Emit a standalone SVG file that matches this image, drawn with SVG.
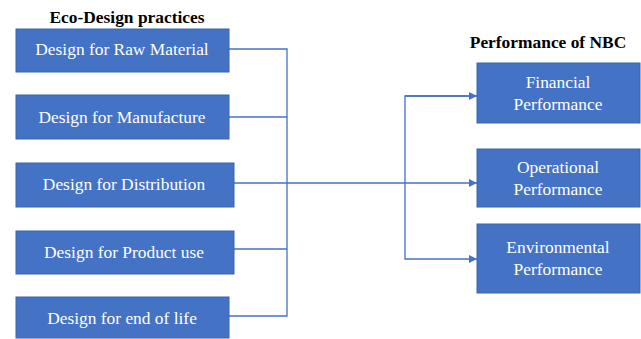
<svg xmlns="http://www.w3.org/2000/svg" width="641" height="339" viewBox="0 0 641 339">
<style>
.box{fill:#4472C4;stroke:#3A64AE;stroke-width:1}
.t{font-family:'Liberation Serif','Times New Roman','DejaVu Serif',serif;font-size:17.4px;fill:#ffffff;text-anchor:middle}
.h{font-family:'Liberation Serif','Times New Roman','DejaVu Serif',serif;font-size:17.4px;font-weight:bold;fill:#000000;text-anchor:middle}
.c{fill:none;stroke:#4472C4;stroke-width:1.3}
</style>
<defs>
<marker id="arr" viewBox="0 0 10 10" refX="10" refY="5" markerWidth="8" markerHeight="8" markerUnits="userSpaceOnUse" orient="auto">
<path d="M0,0 L10,5 L0,10 z" fill="#4472C4"/>
</marker>
</defs>
<rect width="641" height="339" fill="#ffffff"/>
<text class="h" x="127" y="23">Eco-Design practices</text>
<text class="h" x="548" y="48">Performance of NBC</text>
<g id="connectors">
<polyline class="c" points="229,49 287,49 287,316 229,316"/>
<line class="c" x1="229" y1="117" x2="287" y2="117"/>
<line class="c" x1="234" y1="249" x2="287" y2="249"/>
<line class="c" x1="234" y1="183" x2="477" y2="183" marker-end="url(#arr)"/>
<polyline class="c" points="477,96 405,96 405,259 477,259" marker-end="url(#arr)"/>
<line class="c" x1="405" y1="96" x2="477" y2="96" marker-end="url(#arr)"/>
</g>
<g id="n1"><rect class="box" x="16" y="29" width="213" height="43"/><text class="t" x="122" y="55">Design for Raw Material</text></g>
<g id="n2"><rect class="box" x="16" y="95" width="213" height="44"/><text class="t" x="122" y="123">Design for Manufacture</text></g>
<g id="n3"><rect class="box" x="16" y="163" width="218" height="44"/><text class="t" x="124" y="190">Design for Distribution</text></g>
<g id="n4"><rect class="box" x="16" y="231" width="218" height="43"/><text class="t" x="124" y="258">Design for Product use</text></g>
<g id="n5"><rect class="box" x="16" y="297" width="213" height="41"/><text class="t" x="122" y="324">Design for end of life</text></g>
<g id="r1"><rect class="box" x="477" y="63" width="163" height="60"/><text class="t" x="558" y="88">Financial</text><text class="t" x="558" y="110">Performance</text></g>
<g id="r2"><rect class="box" x="477" y="149" width="163" height="58"/><text class="t" x="558" y="173">Operational</text><text class="t" x="558" y="195">Performance</text></g>
<g id="r3"><rect class="box" x="477" y="224" width="163" height="69"/><text class="t" x="558" y="253">Environmental</text><text class="t" x="558" y="275">Performance</text></g>
</svg>
